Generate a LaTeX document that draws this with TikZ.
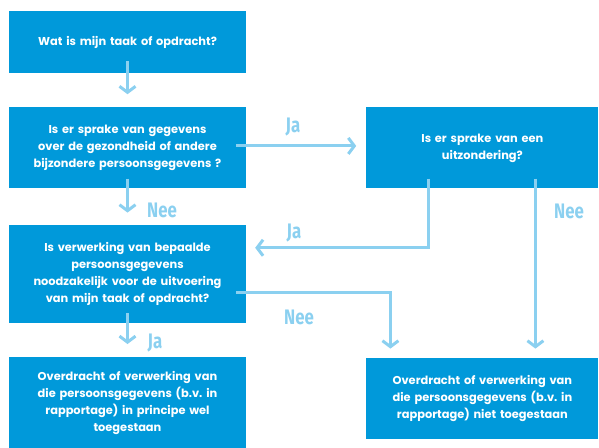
\documentclass[tikz,border=0pt]{standalone}
\usepackage{fontspec}
\setmainfont{Poppins}
\newfontfamily\labelfont[FakeStretch=0.8]{Fira Sans}
\usetikzlibrary{arrows.meta, positioning}
\definecolor{boxblue}{HTML}{0099DA}
\definecolor{lineblue}{HTML}{8BD0F0}
\frenchspacing

\begin{document}
\begin{tikzpicture}[x=1pt, y=-1pt, node distance=34pt and 120pt,
    every node/.style={font=\bfseries\fontsize{11.4}{17}\selectfont},
    question/.style={rectangle, fill=boxblue, text=white, minimum width=237pt, text width=220pt, inner sep=0pt, align=center},
    answer/.style={font=\labelfont\bfseries\fontsize{21}{21}\selectfont, text=lineblue},
    arrow/.style={draw=lineblue, line width=3pt, -{Straight Barb[length=6pt, width=16pt, line width=3pt]}}]
\useasboundingbox (0,0) rectangle (599,447);

% Left column
\node[question, minimum height=62pt] (task) at (127.5,42) {Wat is mijn taak of opdracht?};
\node[question, minimum height=81pt, below=34pt of task] (special) {Is er sprake van gegevens\\ over de gezondheid of andere\\ bijzondere persoonsgegevens ?};
\node[question, minimum height=98pt, below=36pt of special] (needed) {Is verwerking van bepaalde\\ persoonsgegevens\\ noodzakelijk voor de uitvoering\\ van mijn taak of opdracht?};
\node[question, minimum height=92pt, below=34pt of needed] (allowed) {Overdracht of verwerking van\\ die persoonsgegevens (b.v. in\\ rapportage) in principe wel\\ toegestaan};

% Right column
\node[question, minimum width=232pt, text width=215pt, minimum height=81pt, right=120pt of special] (exception) {Is er sprake van een\\ uitzondering?};
\node[question, minimum width=232pt, text width=215pt, minimum height=81pt, below=169pt of exception] (denied) {Overdracht of verwerking van\\ die persoonsgegevens (b.v. in\\ rapportage) niet toegestaan};

% Arrows
\draw[arrow] ([yshift=12pt]task.south) -- ([yshift=13pt]special.north);
\draw[arrow] ([shift={(-10pt,2pt)}]special.east) -- ([shift={(-10pt,2pt)}]exception.west);
\draw[arrow] ([yshift=10pt]special.south) -- ([yshift=12pt]needed.north);
\draw[arrow] ([shift={(-54pt,10pt)}]exception.south) |- ([shift={(9pt,26pt)}]needed.east);
\draw[arrow] ([shift={(53pt,10pt)}]exception.south) -- ([shift={(53pt,9pt)}]denied.north);
\draw[arrow] ([shift={(-10pt,-19pt)}]needed.east) -| ([shift={(-92pt,9pt)}]denied.north);
\draw[arrow] ([yshift=10pt]needed.south) -- ([yshift=13pt]allowed.north);

% Answers
\node[answer] (ja1) at (293,127) {Ja};
\node[answer] (nee1) at (162,210) {Nee};
\node[answer] (ja2) at (294,233) {Ja};
\node[answer] (nee2) at (569,211) {Nee};
\node[answer] (nee3) at (299,317) {Nee};
\node[answer] (ja3) at (155,343) {Ja};

\end{tikzpicture}
\end{document}
